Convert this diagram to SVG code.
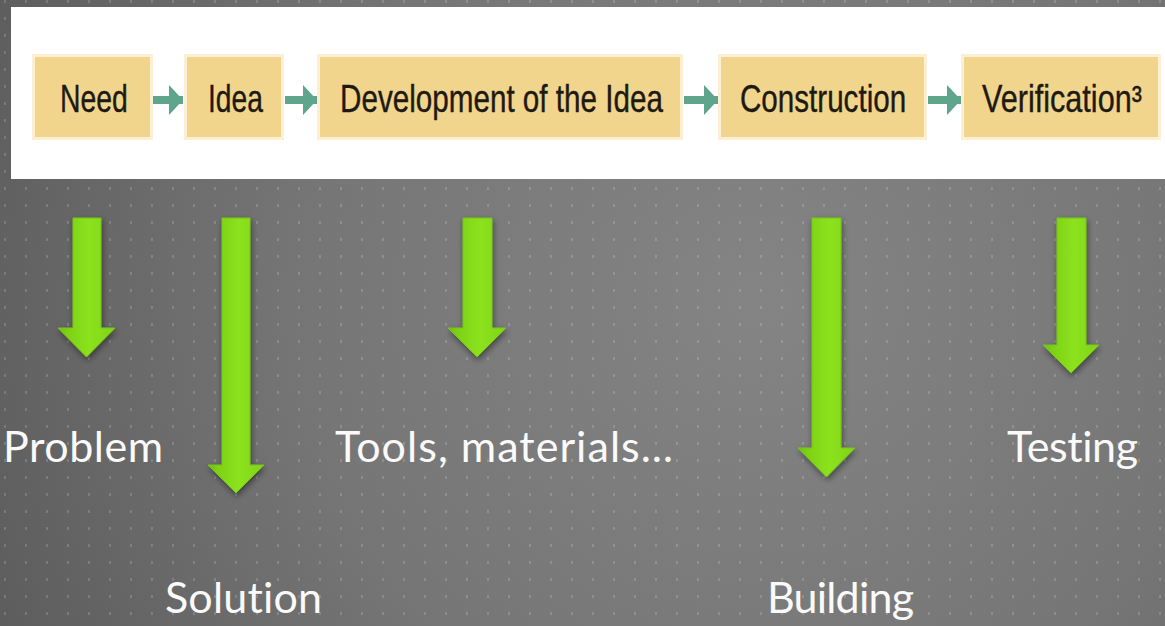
<svg xmlns="http://www.w3.org/2000/svg" width="1165" height="626" viewBox="0 0 1165 626">
  <defs>
    <radialGradient id="bg" cx="760" cy="300" r="900" gradientUnits="userSpaceOnUse">
      <stop offset="0" stop-color="#848484"/>
      <stop offset="0.5" stop-color="#767676"/>
      <stop offset="1" stop-color="#585858"/>
    </radialGradient>
    <pattern id="dots" x="4" y="0" width="21" height="17" patternUnits="userSpaceOnUse">
      <rect x="0" y="0" width="2" height="3" fill="#ffffff" fill-opacity="0.16"/>
    </pattern>
    <linearGradient id="green" x1="0" y1="0" x2="1" y2="0">
      <stop offset="0" stop-color="#6cbf13"/>
      <stop offset="0.18" stop-color="#7ed218"/>
      <stop offset="0.55" stop-color="#8ce21b"/>
      <stop offset="1" stop-color="#80d418"/>
    </linearGradient>
    <filter id="shadow" x="-40%" y="-10%" width="180%" height="130%">
      <feDropShadow dx="1" dy="3" stdDeviation="3" flood-color="#000" flood-opacity="0.45"/>
    </filter>
    <marker id="tealHead" viewBox="0 0 14 30" refX="14" refY="15" markerWidth="14" markerHeight="30" markerUnits="userSpaceOnUse" orient="auto">
      <path d="M0 0 L14 15 L0 30 Z" fill="#5ea58b"/>
    </marker>
    <style>
      .box { fill: #f2d58d; stroke: #fcefd3; stroke-width: 3; }
      .boxText { font-family: "Liberation Sans Narrow", "Liberation Sans", Arial, sans-serif; font-size: 38px; fill: #1e1a12; stroke: #1e1a12; stroke-width: 0.4; }
      .link { stroke: #5ea58b; stroke-width: 8; fill: none; }
      .bigArrow { fill: url(#green); stroke: #74c516; stroke-width: 1; filter: url(#shadow); }
      .label { font-family: Lato, "Open Sans", sans-serif; font-size: 43px; fill: #fafafa; font-variant-ligatures: none; font-feature-settings: "liga" 0; }
    </style>
  </defs>

  <!-- backdrop -->
  <rect width="1165" height="626" fill="url(#bg)"/>
  <rect width="1165" height="626" fill="url(#dots)"/>

  <!-- white band holding the process chain -->
  <rect x="11" y="7" width="1154" height="172" fill="#ffffff"/>

  <!-- connectors of the chain -->
  <g id="connectors">
    <line class="link" x1="153" y1="100" x2="183" y2="100" marker-end="url(#tealHead)"/>
    <line class="link" x1="285" y1="100" x2="317" y2="100" marker-end="url(#tealHead)"/>
    <line class="link" x1="684" y1="100" x2="718" y2="100" marker-end="url(#tealHead)"/>
    <line class="link" x1="928" y1="100" x2="961" y2="100" marker-end="url(#tealHead)"/>
  </g>

  <!-- chain steps; labels are squeezed horizontally to a condensed look -->
  <g id="node-need">
    <rect class="box" x="33.5" y="55.5" width="118" height="83"/>
    <text class="boxText" transform="translate(60 112) scale(0.78 1)" textLength="87" lengthAdjust="spacingAndGlyphs">Need</text>
  </g>
  <g id="node-idea">
    <rect class="box" x="185.5" y="55.5" width="97" height="83"/>
    <text class="boxText" transform="translate(208 112) scale(0.78 1)" textLength="70.5" lengthAdjust="spacingAndGlyphs">Idea</text>
  </g>
  <g id="node-development">
    <rect class="box" x="318.5" y="55.5" width="363" height="83"/>
    <text class="boxText" transform="translate(340 112) scale(0.78 1)" textLength="414" lengthAdjust="spacingAndGlyphs">Development of the Idea</text>
  </g>
  <g id="node-construction">
    <rect class="box" x="719.5" y="55.5" width="206" height="83"/>
    <text class="boxText" transform="translate(740 112) scale(0.78 1)" textLength="213" lengthAdjust="spacingAndGlyphs">Construction</text>
  </g>
  <g id="node-verification">
    <rect class="box" x="962.5" y="55.5" width="197" height="83"/>
    <text class="boxText" transform="translate(982 112) scale(0.78 1)" textLength="205" lengthAdjust="spacingAndGlyphs">Verification³</text>
  </g>

  <!-- green down arrows with their outcomes -->
  <g id="step-problem">
    <path class="bigArrow" d="M73 218 H101 V328 H115 L86.5 357 L58 328 H73 Z"/>
    <text class="label" x="3" y="462" textLength="160">Problem</text>
  </g>
  <g id="step-solution">
    <path class="bigArrow" d="M222 218 H250 V465 H264 L236 493 L208 465 H222 Z"/>
    <text class="label" x="165" y="613" textLength="157">Solution</text>
  </g>
  <g id="step-tools">
    <path class="bigArrow" d="M463 218 H492 V328 H506 L477 357 L448 328 H463 Z"/>
    <text class="label" x="335" y="462" textLength="338">Tools, materials…</text>
  </g>
  <g id="step-building">
    <path class="bigArrow" d="M812 218 H841 V448 H855 L826.5 477 L798 448 H812 Z"/>
    <text class="label" x="767" y="613" textLength="147">Building</text>
  </g>
  <g id="step-testing">
    <path class="bigArrow" d="M1057 218 H1086 V345 H1099 L1071 373 L1043 345 H1057 Z"/>
    <text class="label" x="1007" y="462" textLength="131">Testing</text>
  </g>
</svg>
